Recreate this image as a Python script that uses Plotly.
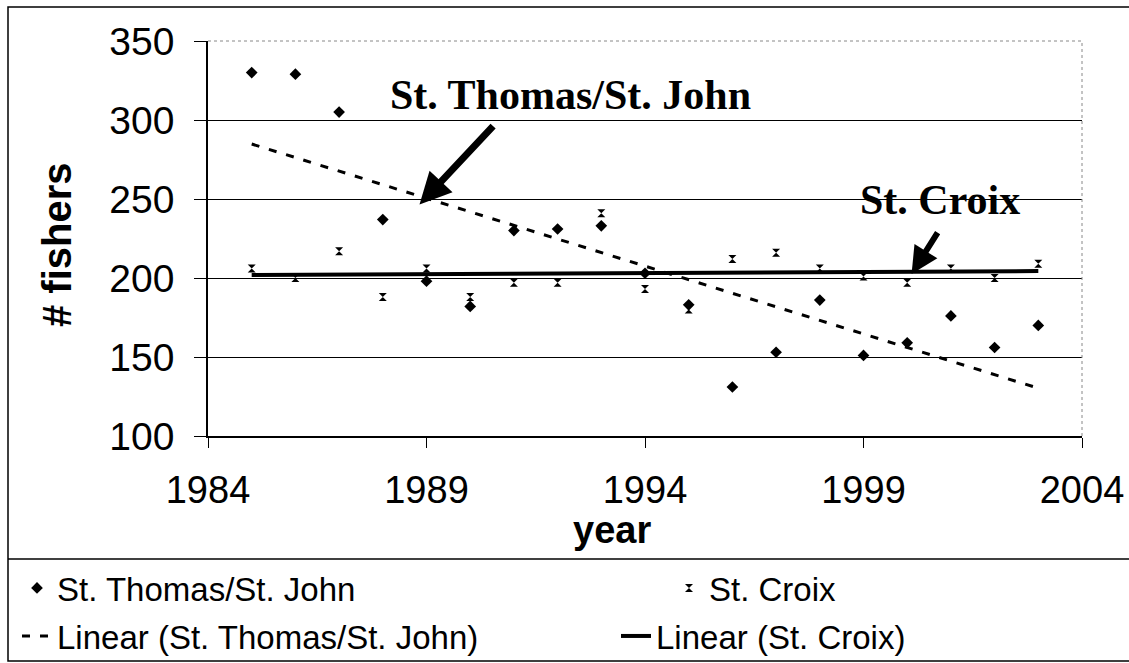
import numpy as np
import plotly.graph_objects as go

years = list(range(1985, 2004))
st_thomas = [330, 329, 305, 237, 198, 182, 230, 231, 233, 203, 183, 131, 153, 186, 151, 159, 176, 156, 170]
st_croix = [206, 200, 217, 188, 206, 188, 197, 197, 241, 193, 180, 212, 216, 206, 201, 197, 206, 200, 209]
x_ticks = [1984, 1989, 1994, 1999, 2004]
y_ticks = [100, 150, 200, 250, 300, 350]

yr = np.array(years, dtype=float)
c1 = np.polyfit(yr, np.array(st_thomas, dtype=float), 1)
c2 = np.polyfit(yr, np.array(st_croix, dtype=float), 1)
trend1 = np.polyval(c1, yr)
trend2 = np.polyval(c2, yr)

fig = go.Figure()
fig.add_trace(go.Scatter(x=years, y=st_thomas, mode="markers", name="St. Thomas/St. John",
                         legend="legend",
                         marker=dict(symbol="diamond", size=9, color="black")))
fig.add_trace(go.Scatter(x=years, y=st_croix, mode="markers", name="St. Croix",
                         legend="legend2",
                         marker=dict(symbol="hourglass", size=8, color="black")))
fig.add_trace(go.Scatter(x=years, y=trend1, mode="lines", name="Linear (St. Thomas/St. John)",
                         legend="legend3",
                         line=dict(color="black", width=3, dash="8px,10px")))
fig.add_trace(go.Scatter(x=years, y=trend2, mode="lines", name="Linear (St. Croix)",
                         legend="legend4",
                         line=dict(color="black", width=4)))

W, H = 1129, 663
L, R, T, B = 208, 1082, 41, 436

def px(p):
    return (p - L) / (R - L)

def py(q):
    return (B - q) / (B - T)

leg_common = dict(xanchor="left", yanchor="middle", font=dict(size=33, family="Liberation Sans"),
                  bgcolor="rgba(0,0,0,0)", itemwidth=30)

fig.update_layout(
    width=W, height=H,
    margin=dict(l=L, r=W - R, t=T, b=H - B, autoexpand=False),
    paper_bgcolor="white", plot_bgcolor="white",
    font=dict(family="Liberation Sans", color="black"),
    showlegend=True,
    legend=dict(x=px(17), y=py(588), **leg_common),
    legend2=dict(x=px(669), y=py(588), **leg_common),
    legend3=dict(x=px(17), y=py(636), **leg_common),
    legend4=dict(x=px(616), y=py(636), **leg_common),
    xaxis=dict(range=[1984, 2004], tickvals=x_ticks, showgrid=False,
               showline=True, linecolor="black", linewidth=1.5,
               ticks="outside", ticklen=10, tickcolor="black",
               ticklabelstandoff=10,
               tickfont=dict(size=38, family="Liberation Sans"),
               zeroline=False),
    yaxis=dict(range=[100, 350], tickvals=y_ticks, showgrid=True, gridcolor="black", gridwidth=1,
               showline=True, linecolor="black", linewidth=1.5,
               ticks="outside", ticklen=12, tickcolor="black",
               ticklabelstandoff=12,
               tickfont=dict(size=39, family="Liberation Sans"),
               zeroline=False),
)

shapes = [
    dict(type="line", xref="paper", yref="paper", x0=0, x1=1, y0=1, y1=1,
         line=dict(color="#888888", width=1, dash="dot")),
    dict(type="line", xref="paper", yref="paper", x0=1, x1=1, y0=0, y1=1,
         line=dict(color="#888888", width=1, dash="dot")),
    dict(type="rect", xref="paper", yref="paper", x0=px(8), x1=px(1140), y0=py(661), y1=py(7),
         line=dict(color="black", width=1.5), fillcolor="rgba(0,0,0,0)", layer="below"),
    dict(type="line", xref="paper", yref="paper", x0=px(8), x1=px(1140), y0=py(559), y1=py(559),
         line=dict(color="black", width=1.5)),
]
fig.update_layout(shapes=shapes)

ctr = dict(xanchor="center", yanchor="middle", showarrow=False, xref="paper", yref="paper")
annotations = [
    dict(x=px(57), y=py(245), text="<b># fishers</b>", textangle=-90,
         font=dict(size=40, family="Liberation Sans", color="black"), **ctr),
    dict(x=px(612), y=py(530), text="<b>year</b>",
         font=dict(size=38, family="Liberation Sans", color="black"), **ctr),
    dict(x=px(570), y=py(95), text="<b>St. Thomas/St. John</b>",
         font=dict(size=42, family="Liberation Serif", color="black"), **ctr),
    dict(x=px(940), y=py(200), text="<b>St. Croix</b>",
         font=dict(size=42, family="Liberation Serif", color="black"), **ctr),
    dict(x=1988.84, y=246.5, xref="x", yref="y", text="", showarrow=True,
         ax=75, ay=-80, arrowhead=2, arrowsize=0.9, arrowwidth=7, arrowcolor="black"),
    dict(x=2000.1, y=202.5, xref="x", yref="y", text="", showarrow=True,
         ax=27, ay=-43, arrowhead=2, arrowsize=0.9, arrowwidth=6, arrowcolor="black"),
]
fig.update_layout(annotations=annotations)

fig.write_html("out.html", config={"displayModeBar": False},
               post_script="document.body.style.margin='0px';")
